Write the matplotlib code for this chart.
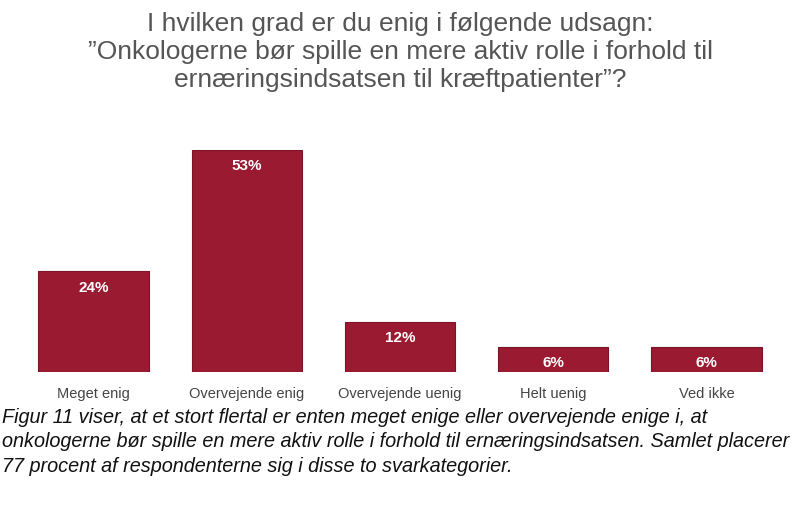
import matplotlib
matplotlib.use("Agg")
import matplotlib.pyplot as plt

categories = ["Meget enig", "Overvejende enig", "Overvejende uenig", "Helt uenig", "Ved ikke"]
values = [24, 53, 12, 6, 6]
labels = ["24%", "53%", "12%", "6%", "6%"]

plt.rcParams['font.family'] = ['Liberation Sans', 'DejaVu Sans']
fig = plt.figure(figsize=(8, 5.08), dpi=100)
fig.patch.set_facecolor("white")
ax = fig.add_axes([17/800, 136/508, 766/800, 222/508])
x = range(len(categories))
ax.bar(x, values, width=0.72, color="#9a1a31", edgecolor="#7d1326", linewidth=0.8)
for i, (v, l) in enumerate(zip(values, labels)):
    ax.text(i, v - 2.2, l, ha="center", va="top", color="white", fontsize=11, fontweight="bold")
    ax.text(i, -3.5, categories[i], ha="center", va="top", color="#444444", fontsize=10.5)
ax.set_xlim(-0.5, 4.5)
ax.set_ylim(0, 53)
ax.axis("off")

fig.text(0.5, 1 - 12/508, "I hvilken grad er du enig i følgende udsagn:\n\u201dOnkologerne bør spille en mere aktiv rolle i forhold til\nernæringsindsatsen til kræftpatienter\u201d?",
         ha="center", va="top", fontsize=19, color="#555555", linespacing=1.2)
fig.text(2/800, 1 - 408/508, "Figur 11 viser, at et stort flertal er enten meget enige eller overvejende enige i, at\nonkologerne bør spille en mere aktiv rolle i forhold til ernæringsindsatsen. Samlet placerer\n77 procent af respondenterne sig i disse to svarkategorier.",
         ha="left", va="top", fontsize=14.3, style="italic", color="#111111", linespacing=1.35)
fig.savefig("out.png", dpi=100)
